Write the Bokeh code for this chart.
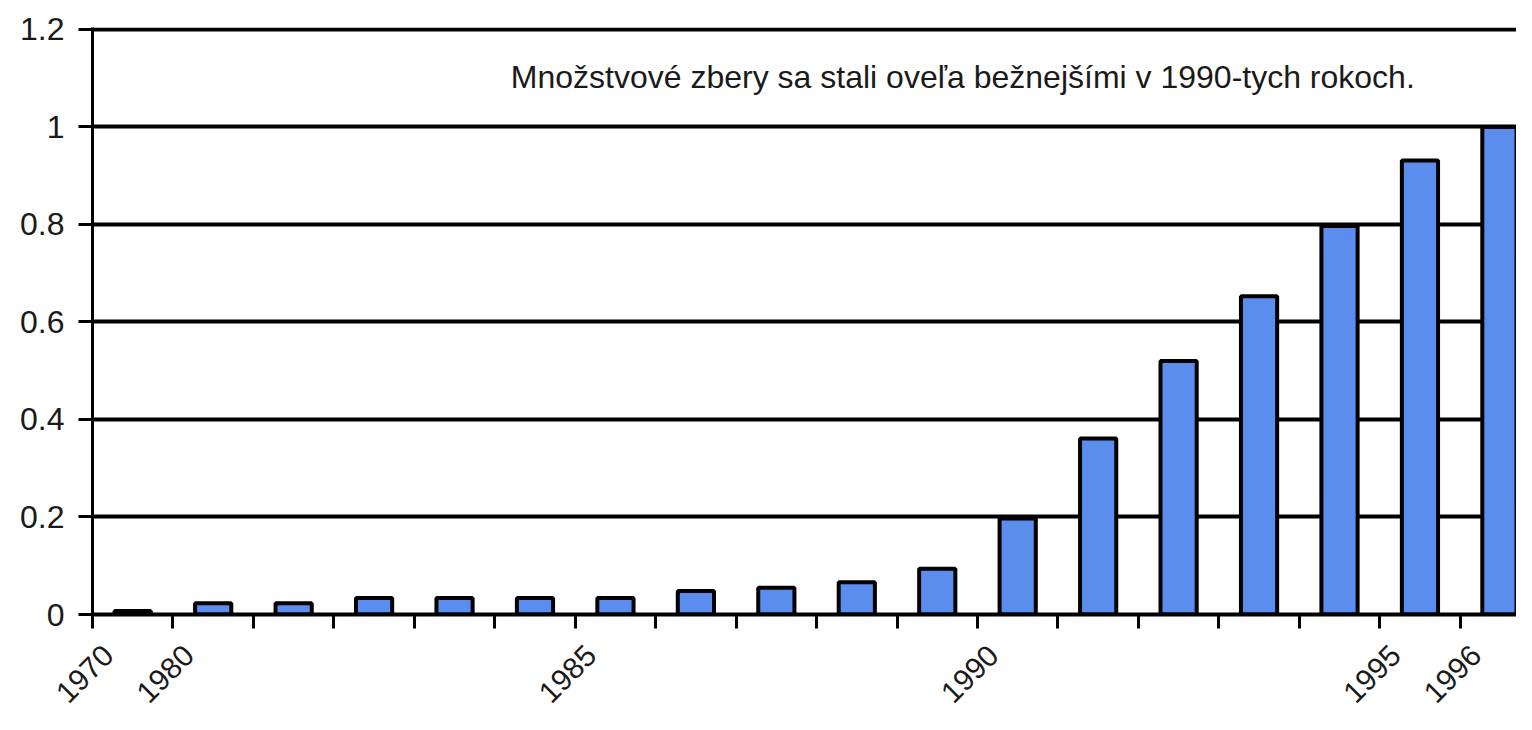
import math
from bokeh.plotting import figure
from bokeh.models import Range1d, LinearAxis, FixedTicker, NumeralTickFormatter, Label
from bokeh.embed import file_html
from bokeh.resources import INLINE

# ---- data ----
years = ["1970", "1980", "1981", "1982", "1983", "1984", "1985", "1986", "1987",
         "1988", "1989", "1990", "1991", "1992", "1993", "1994", "1995", "1996"]
values = [0.007, 0.023, 0.023, 0.034, 0.034, 0.034, 0.034, 0.048, 0.055,
          0.066, 0.094, 0.197, 0.361, 0.52, 0.653, 0.797, 0.931, 1.0]
shown_years = ["1970", "1980", "1985", "1990", "1995", "1996"]
y_ticks = [0, 0.2, 0.4, 0.6, 0.8, 1.0, 1.2]
note = "Množstvové zbery sa stali oveľa bežnejšími v 1990-tych rokoch."

# ---- layout constants ----
X_END = 17.7
Y_END = 1.204          # a hair above 1.2 so the top grid line is fully visible
LABEL_SHIFT = 0.2
FONT = "Liberation Sans"
BAR_COLOR = "#5B8DEE"

n = len(years)
bar_x = [i + 0.5 for i in range(n)]
label_idx = [years.index(y) for y in shown_years]

p = figure(width=1516, height=714, output_backend="svg", toolbar_location=None,
           x_range=Range1d(0, X_END), y_range=Range1d(0, Y_END),
           x_axis_type=None, min_border_left=92, min_border_top=27,
           min_border_bottom=99, min_border_right=0)
p.outline_line_color = None
p.background_fill_color = "white"
p.border_fill_color = "white"

# x axis on a shifted range: labels sit just right of their boundary ticks;
# the boundary tick marks are drawn as minor ticks.
p.extra_x_ranges = {"labels": Range1d(-LABEL_SHIFT, X_END - LABEL_SHIFT)}
xa = LinearAxis(x_range_name="labels",
                ticker=FixedTicker(ticks=label_idx,
                                   minor_ticks=[k - LABEL_SHIFT for k in range(n)]),
                major_label_overrides={i: years[i] for i in label_idx},
                major_label_orientation=math.pi / 4,
                major_label_text_font=FONT, major_label_text_font_size="30px",
                major_label_text_color="#1a1a1a",
                major_label_standoff=22,
                major_tick_line_color=None, major_tick_out=0, major_tick_in=0,
                minor_tick_line_color="black", minor_tick_line_width=3,
                minor_tick_out=14, minor_tick_in=0,
                axis_line_width=4, axis_line_color="black")
p.add_layout(xa, "below")

# y axis
ya = p.yaxis[0]
ya.ticker = FixedTicker(ticks=y_ticks)
ya.formatter = NumeralTickFormatter(format="0.[0]")
ya.major_label_text_font = FONT
ya.major_label_text_font_size = "32px"
ya.major_label_text_color = "#1a1a1a"
ya.major_tick_out = 14
ya.major_tick_in = 0
ya.major_tick_line_width = 3
ya.minor_tick_line_color = None
ya.axis_line_width = 3
ya.major_label_standoff = 14

p.xgrid.visible = False
p.ygrid.ticker = FixedTicker(ticks=y_ticks)
p.ygrid.grid_line_color = "black"
p.ygrid.grid_line_width = 4

p.vbar(x=bar_x, top=values, width=0.45, bottom=0,
       fill_color=BAR_COLOR, line_color="black", line_width=4)

p.add_layout(Label(x=5.2, y=1.102, text=note, text_font=FONT,
                   text_font_size="32px", text_color="#1a1a1a",
                   text_baseline="middle", text_align="left"))

open("out.html", "w").write(file_html(p, INLINE))
